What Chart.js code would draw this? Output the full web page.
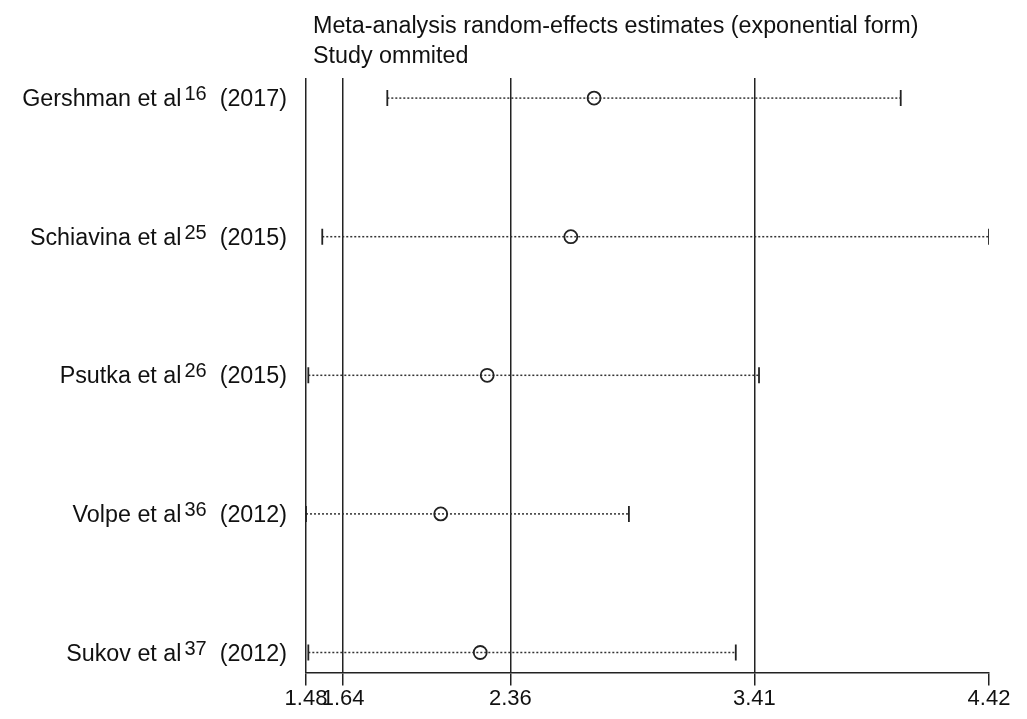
<!DOCTYPE html>
<html>
<head>
<meta charset="utf-8">
<script src="https://cdn.jsdelivr.net/npm/chart.js@4/dist/chart.umd.min.js"></script>
<style>
  body { margin: 0; background: #fff; }
  #wrap { width: 1027px; height: 719px; }
</style>
</head>
<body>
<div id="wrap"><canvas id="chart"></canvas></div>
<script>
const studies = ['Gershman et al', 'Schiavina et al', 'Psutka et al', 'Volpe et al', 'Sukov et al']
const refs = ['16', '25', '26', '36', '37']
const years = ['(2017)', '(2015)', '(2015)', '(2012)', '(2012)']
const estimate = [2.72, 2.62, 2.26, 2.06, 2.23]
const lower = [1.83, 1.55, 1.49, 1.48, 1.49]
const upper = [4.04, 4.42, 3.43, 2.87, 3.33]
const xTicks = [1.48, 1.64, 2.36, 3.41, 4.42]
const titleLines = ['Meta-analysis random-effects estimates (exponential form)', 'Study ommited']

const ink = '#222'
const font = '"Liberation Sans", Arial, sans-serif'

// one dotted line per study, caps drawn as rotated 'line' points
const ciSets = studies.map((s, i) => ({
	type: 'line',
	label: s,
	data: [{ x: lower[i], y: i + 1 }, { x: upper[i], y: i + 1 }],
	borderColor: '#333',
	borderWidth: 1.5,
	borderDash: [2, 2],
	pointStyle: 'line',
	pointRotation: 90,
	pointRadius: 8,
	pointBorderWidth: 1.8,
	pointBorderColor: ink,
	order: 1,
}))

const labelPlugin = {
	id: 'studyLabels',
	afterDraw(chart) {
		const ctx = chart.ctx
		const y = chart.scales.y
		ctx.save()
		ctx.fillStyle = '#111'
		ctx.textBaseline = 'alphabetic'
		ctx.textAlign = 'left'
		ctx.font = '23.3px ' + font
		ctx.fillText(titleLines[0], 313, 33)
		ctx.fillText(titleLines[1], 313, 63)

		ctx.textAlign = 'right'
		studies.forEach((s, i) => {
			const base = y.getPixelForValue(i + 1) + 8
			let x = 287
			ctx.font = '23.3px ' + font
			ctx.fillText(years[i], x, base)
			x -= ctx.measureText(years[i]).width + 13
			ctx.font = '20px ' + font
			ctx.fillText(refs[i], x, base - 6)
			x -= ctx.measureText(refs[i]).width + 3
			ctx.font = '23.3px ' + font
			ctx.fillText(s, x, base)
		})
		ctx.restore()
	},
}

new Chart(document.getElementById('chart'), {
	type: 'scatter',
	data: {
		datasets: [
			{
				label: 'estimate',
				data: estimate.map((v, i) => ({ x: v, y: i + 1 })),
				pointStyle: 'circle',
				pointRadius: 6.5,
				backgroundColor: 'rgba(0,0,0,0)',
				borderColor: ink,
				borderWidth: 1.8,
				order: 0,
			},
			...ciSets,
		],
	},
	options: {
		responsive: true,
		maintainAspectRatio: false,
		animation: false,
		layout: { padding: { left: 306, right: 38, top: 78, bottom: 7 } },
		plugins: {
			legend: { display: false },
			tooltip: { enabled: false },
		},
		scales: {
			x: {
				type: 'linear',
				min: 1.48,
				max: 4.42,
				afterBuildTicks: scale => {
					scale.ticks = xTicks.map(v => ({ value: v }))
				},
				ticks: {
					autoSkip: false,
					maxRotation: 0,
					minRotation: 0,
					padding: 0,
					color: '#111',
					font: { family: font, size: 22 },
					callback: v => v.toFixed(2),
				},
				grid: {
					color: c => (c.index === xTicks.length - 1 ? 'rgba(0,0,0,0)' : ink),
					tickColor: ink,
					tickLength: 13,
					lineWidth: 1.5,
				},
				border: { display: true, color: ink, width: 1.5 },
			},
			y: {
				type: 'linear',
				reverse: true,
				min: 0.855,
				max: 5.145,
				display: false,
			},
		},
	},
	plugins: [labelPlugin],
})
</script>
</body>
</html>
